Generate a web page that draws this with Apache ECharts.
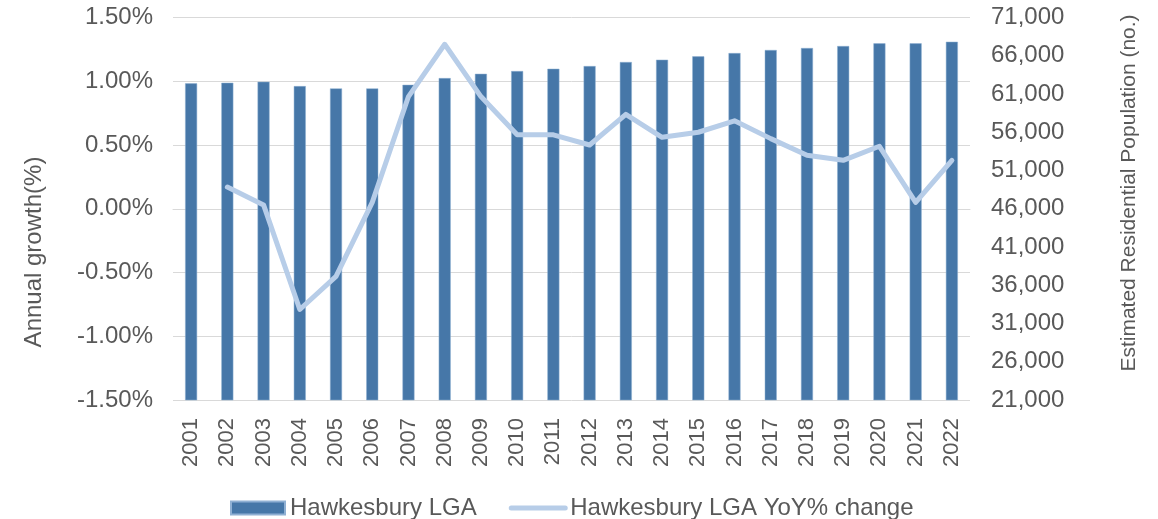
<!DOCTYPE html>
<html>
<head>
<meta charset="utf-8">
<script src="https://cdn.jsdelivr.net/npm/echarts@6/dist/echarts.min.js"></script>
<style>
html,body{margin:0;padding:0;background:#fff;}
#chart{width:1158px;height:519px;}
</style>
</head>
<body>
<div id="chart"></div>
<script>
var years = ['2001','2002','2003','2004','2005','2006','2007','2008','2009','2010','2011','2012','2013','2014','2015','2016','2017','2018','2019','2020','2021','2022'];
var population = [62390,62470,62600,62030,61730,61730,62200,63080,63640,64000,64300,64650,65180,65480,65920,66350,66750,67010,67270,67620,67620,67830];
var yoyChange = [null,0.17,0.03,-0.79,-0.53,0.05,0.88,1.29,0.88,0.58,0.58,0.50,0.74,0.56,0.60,0.69,0.55,0.42,0.38,0.49,0.05,0.38];
var leftTicks = {min:-1.5, max:1.5, interval:0.5};
var rightTicks = {min:21000, max:71000, interval:5000};

var FONT = '"Liberation Sans", Arial, sans-serif';
var TXT = '#595959';
var chart = echarts.init(document.getElementById('chart'));
chart.setOption({
  animation:false,
  backgroundColor:'#fff',
  textStyle:{fontFamily:FONT},
  grid:{left:173, right:188, top:17.5, bottom:119, containLabel:false},
  legend:{
    left:225, top:491,
    itemWidth:54, itemHeight:13, itemGap:32,
    textStyle:{fontFamily:FONT, fontSize:24, color:TXT},
    data:[
      {name:'Hawkesbury LGA', icon:'rect'},
      {name:'Hawkesbury LGA YoY% change', itemStyle:{opacity:0},
       lineStyle:{width:5, color:'#b7cde8', cap:'round'}}
    ]
  },
  graphic:[
    {type:'text', x:34, y:252, rotation:Math.PI/2,
     style:{text:'Annual growth(%)', font:'24px '+FONT, fill:TXT, textAlign:'center', textVerticalAlign:'middle'}},
    {type:'text', x:1129, y:193, rotation:Math.PI/2,
     style:{text:'Estimated Residential Population (no.)', font:'21px '+FONT, fill:TXT, textAlign:'center', textVerticalAlign:'middle'}}
  ],
  xAxis:{
    type:'category', data:years, boundaryGap:true,
    axisLine:{show:true, lineStyle:{color:'#d9d9d9', width:1}},
    axisTick:{show:false},
    axisLabel:{rotate:90, margin:18, fontSize:22, color:TXT, fontFamily:FONT, interval:0}
  },
  yAxis:[
    {type:'value', min:leftTicks.min, max:leftTicks.max, interval:leftTicks.interval,
     axisLine:{show:false}, axisTick:{show:false},
     splitLine:{show:true, lineStyle:{color:'#d9d9d9', width:1}},
     axisLabel:{margin:20, fontSize:24, color:TXT, fontFamily:FONT,
       formatter:function(v){return v.toFixed(2)+'%';}}},
    {type:'value', min:rightTicks.min, max:rightTicks.max, interval:rightTicks.interval,
     axisLine:{show:false}, axisTick:{show:false}, splitLine:{show:false},
     axisLabel:{margin:21, fontSize:24, color:TXT, fontFamily:FONT,
       formatter:function(v){return v.toLocaleString('en-US');}}}
  ],
  series:[
    {name:'Hawkesbury LGA', type:'bar', yAxisIndex:1, data:population, barWidth:12,
     itemStyle:{color:'#4677a8', borderColor:'#8fb0d3', borderWidth:0.5}},
    {name:'Hawkesbury LGA YoY% change', type:'line', yAxisIndex:0, data:yoyChange,
     symbol:'none', showSymbol:false, connectNulls:false,
     lineStyle:{color:'#b7cde8', width:5, cap:'round', join:'round'},
     itemStyle:{color:'#b7cde8'}, z:3}
  ]
});
</script>
</body>
</html>
